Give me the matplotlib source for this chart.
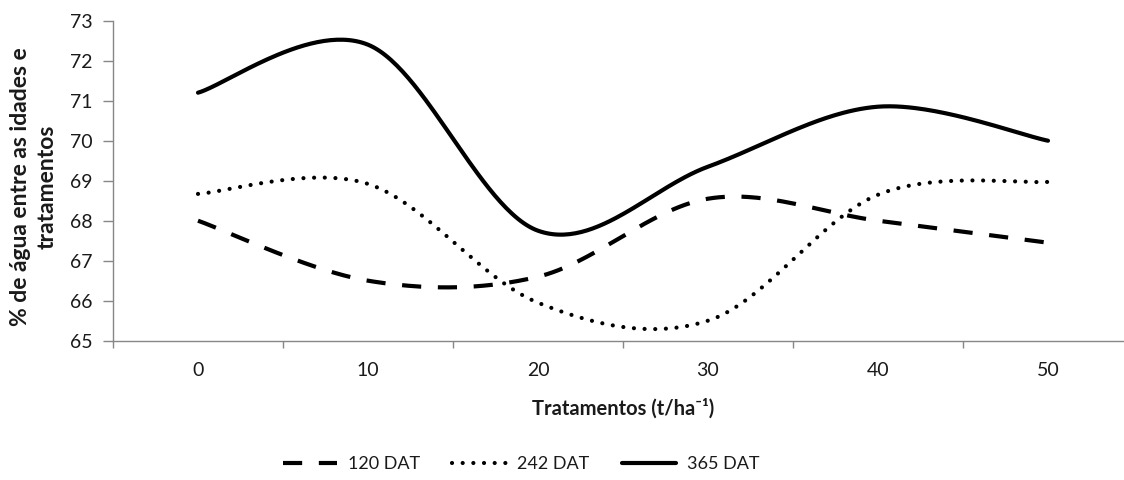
import numpy as np
import matplotlib
matplotlib.use("Agg")
import matplotlib.pyplot as plt

# Water content (%) by treatment dose, for three plant ages
treatments = ["0", "10", "20", "30", "40", "50"]
dat120 = [68.0, 66.5, 66.6, 68.55, 68.0, 67.45]
dat242 = [68.67, 68.92, 65.95, 65.5, 68.65, 68.97]
dat365 = [71.2, 72.4, 67.75, 69.35, 70.85, 70.0]
series_names = ["120 DAT", "242 DAT", "365 DAT"]

plt.rcParams["font.family"] = ["Lato", "DejaVu Sans"]

AXIS_GRAY = "#878787"
TEXT = "#1a1a1a"


def smooth(y, n=60):
    """Catmull-Rom style smoothing through the points (Bezier segments)."""
    y = np.asarray(y, float)
    x = np.arange(len(y), dtype=float)
    pts = np.column_stack([x, y])
    ext = np.vstack([pts[0], pts, pts[-1]])
    out = []
    t = np.linspace(0, 1, n)[:, None]
    for i in range(len(pts) - 1):
        p0, p3 = ext[i + 1], ext[i + 2]
        p1 = p0 + (ext[i + 2] - ext[i]) / 6.0
        p2 = p3 - (ext[i + 3] - ext[i + 1]) / 6.0
        seg = ((1 - t) ** 3) * p0 + 3 * ((1 - t) ** 2) * t * p1 \
            + 3 * (1 - t) * t ** 2 * p2 + t ** 3 * p3
        out.append(seg if i == 0 else seg[1:])
    seg = np.vstack(out)
    return seg[:, 0], seg[:, 1]


fig = plt.figure(figsize=(11.24, 4.8), dpi=100)
ax = fig.add_axes([113 / 1124, 1 - 340.7 / 480, 1020 / 1124, 320 / 480])

styles = [
    dict(linestyle=(0, (4.6, 4.0)), dash_capstyle="butt"),
    dict(linestyle=(0, (0.01, 2.55)), dash_capstyle="round"),
    dict(linestyle="-", solid_capstyle="round"),
]
for vals, name, st in zip([dat120, dat242, dat365], series_names, styles):
    sx, sy = smooth(vals)
    ax.plot(sx, sy, color="black", lw=3.0, label=name, **st)

ax.set_xlim(-0.5, len(treatments) - 0.5)
ax.set_ylim(65, 73)
ax.set_yticks(np.arange(65, 74, 1))

ax.set_xticks(np.arange(len(treatments)))
ax.set_xticklabels(treatments)
ax.set_xticks(np.arange(len(treatments) + 1) - 0.5, minor=True)
ax.tick_params(axis="x", which="major", length=0, pad=15, labelsize=14, labelcolor=TEXT)
ax.tick_params(axis="x", which="minor", length=5, width=1.0, color=AXIS_GRAY, direction="out")
ax.tick_params(axis="y", which="major", length=7, width=1.0, color=AXIS_GRAY,
               direction="out", pad=8, labelsize=14, labelcolor=TEXT)

for side in ("top", "right"):
    ax.spines[side].set_visible(False)
for side in ("left", "bottom"):
    ax.spines[side].set_color(AXIS_GRAY)
    ax.spines[side].set_linewidth(1.0)

ax.set_xlabel("Tratamentos (t/ha⁻¹)", fontsize=14.5, fontweight="bold", color=TEXT)
ax.xaxis.set_label_coords(0.5, -0.18)

fig.text(34 / 1124, 1 - 187 / 480, "% de água entre as idades e\ntratamentos",
         rotation=90, ha="center", va="center", multialignment="center",
         fontsize=16.5, fontweight="bold", color=TEXT, linespacing=1.35)

fig.legend(loc="center", bbox_to_anchor=(521 / 1124, 1 - 464 / 480), ncol=3,
           frameon=False, fontsize=13, handlelength=3.0, handletextpad=0.6,
           columnspacing=1.8, labelcolor=TEXT)

fig.savefig("out.png", dpi=100, facecolor="white")
